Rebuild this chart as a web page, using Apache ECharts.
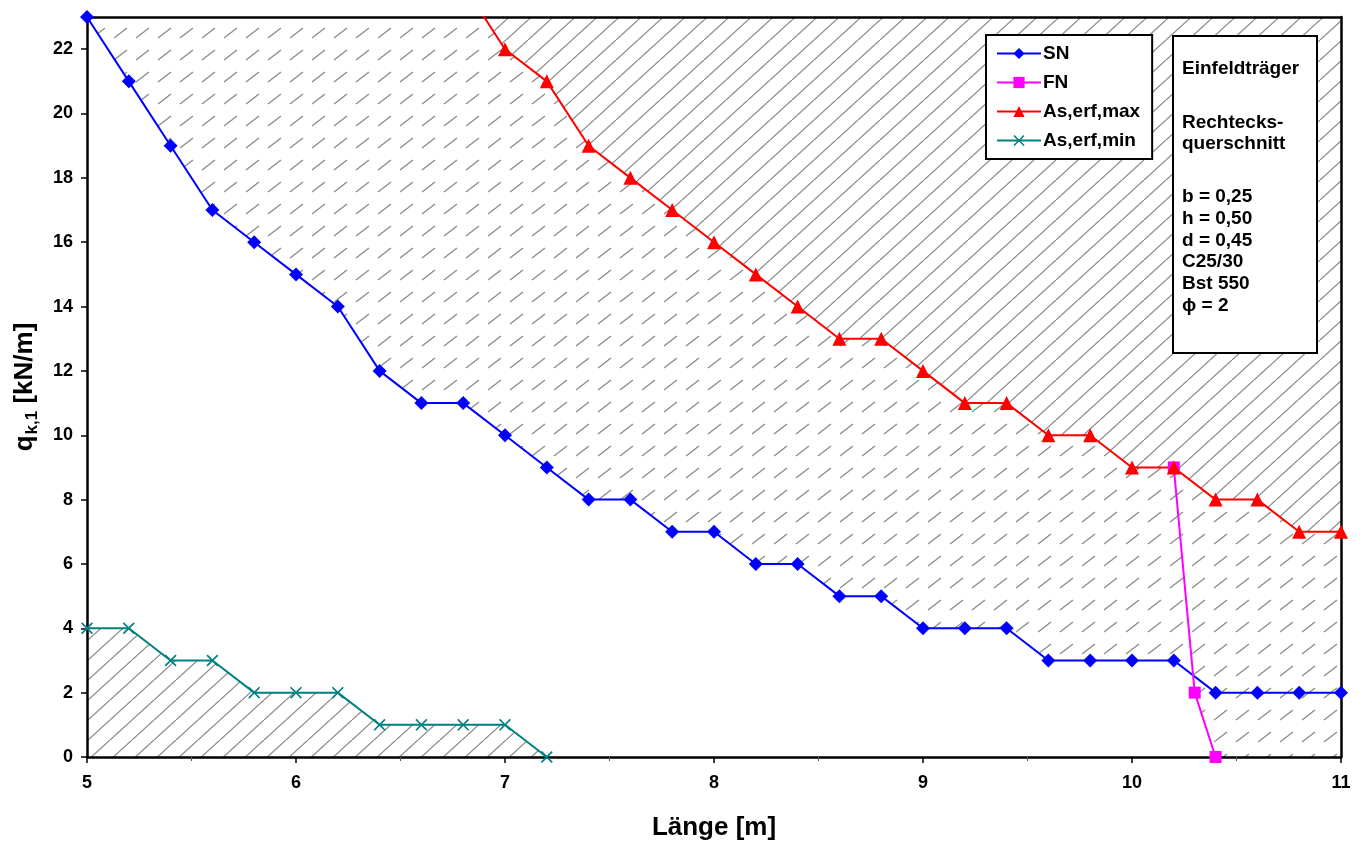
<!DOCTYPE html>
<html>
<head>
<meta charset="utf-8">
<script src="https://cdn.jsdelivr.net/npm/echarts@6/dist/echarts.min.js"></script>
<style>
html,body{margin:0;padding:0;background:#fff;}
#chart{width:1363px;height:841px;}
</style>
</head>
<body>
<div id="chart"></div>
<script>
// ---- data ----
const snX = [5,5.2,5.4,5.6,5.8,6,6.2,6.4,6.6,6.8,7,7.2,7.4,7.6,7.8,8,8.2,8.4,8.6,8.8,9,9.2,9.4,9.6,9.8,10,10.2,10.4,10.6,10.8,11];
const snY = [23,21,19,17,16,15,14,12,11,11,10,9,8,8,7,7,6,6,5,5,4,4,4,3,3,3,3,2,2,2,2];
const fnX = [10.2,10.3,10.4];
const fnY = [9,2,0];
const maxX = [6.8,7,7.2,7.4,7.6,7.8,8,8.2,8.4,8.6,8.8,9,9.2,9.4,9.6,9.8,10,10.2,10.4,10.6,10.8,11];
const maxY = [24,22,21,19,18,17,16,15,14,13,13,12,11,11,10,10,9,9,8,8,7,7];
const minX = [5,5.2,5.4,5.6,5.8,6,6.2,6.4,6.6,6.8,7,7.2];
const minY = [4,4,3,3,2,2,2,1,1,1,1,0];
const xTicks = [5,6,7,8,9,10,11];
const yTicks = [0,2,4,6,8,10,12,14,16,18,20,22];
const infoLines = ['Einfeldträger','Rechtecks-','querschnitt','b = 0,25','h = 0,50','d = 0,45','C25/30','Bst 550','\u03D5 = 2'];
const infoY = [69,123,144,197,219,241,262,284,306];

const zip = (xs, ys) => xs.map((x, i) => [x, ys[i]]);
const SN = zip(snX, snY), FN = zip(fnX, fnY), MAX = zip(maxX, maxY), MIN = zip(minX, minY);

// ---- hatch patterns ----
function solidHatch(whiteBg) {
  const w = 22, h = 20;
  const c = document.createElement('canvas'); c.width = w; c.height = h;
  const g = c.getContext('2d');
  if (whiteBg) { g.fillStyle = '#fff'; g.fillRect(0, 0, w, h); }
  g.strokeStyle = '#858585'; g.lineWidth = 1.2;
  for (let k = -1; k <= 1; k++) {
    g.beginPath(); g.moveTo(k * w, h); g.lineTo(k * w + w, 0); g.stroke();
  }
  return { image: c, repeat: 'repeat' };
}
function dashHatch() {
  const w = 22, h = 22;
  const c = document.createElement('canvas'); c.width = w; c.height = h;
  const g = c.getContext('2d');
  g.fillStyle = '#fff'; g.fillRect(0, 0, w, h);
  g.strokeStyle = '#8a8a8a'; g.lineWidth = 1.3;
  g.beginPath(); g.moveTo(4, 16); g.lineTo(17, 6); g.stroke();
  return { image: c, repeat: 'repeat' };
}
const DASH = dashHatch(), SOLID_T = solidHatch(false), SOLID_W = solidHatch(true);

function fill(name, data, color, origin, z) {
  return { name, type: 'line', data, z, silent: true, symbol: 'none', showSymbol: false,
    lineStyle: { width: 0, opacity: 0 }, areaStyle: { color, origin, opacity: 1 },
    emphasis: { disabled: true }, tooltip: { show: false } };
}
const crossPath = 'path://M0,1 L1,0 L5,4 L9,0 L10,1 L6,5 L10,9 L9,10 L5,6 L1,10 L0,9 L4,5 Z';
function vis(name, data, color, symbol, size) {
  return { name, type: 'line', data, z: 20, symbol, symbolSize: size, showSymbol: true,
    lineStyle: { color, width: 2 }, itemStyle: { color, borderColor: color, borderWidth: 0 },
    emphasis: { disabled: true } };
}

const chart = echarts.init(document.getElementById('chart'), null, { renderer: 'canvas' });
const bold = 'bold';
const ff = 'Liberation Sans, Arial, sans-serif';
chart.setOption({
  animation: false,
  backgroundColor: '#fff',
  grid: { left: 87, right: 22, top: 17, bottom: 84, show: false, containLabel: false, outerBoundsMode: 'none' },
  xAxis: [{
    type: 'value', min: 5, max: 11, interval: 1, z: 15,
    name: 'Länge [m]', nameLocation: 'middle', nameGap: 58,
    nameTextStyle: { fontFamily: ff, fontWeight: bold, fontSize: 26, color: '#000' },
    axisLine: { lineStyle: { color: '#000', width: 2.5 } },
    axisTick: { length: 6, lineStyle: { color: '#000', width: 1.5 } },
    minorTick: { show: true, splitNumber: 2, length: 4, lineStyle: { color: '#555', width: 1 } },
    splitLine: { show: false },
    axisLabel: { fontFamily: ff, fontWeight: bold, fontSize: 18, color: '#000', margin: 17,
      formatter: v => xTicks.includes(v) ? String(v) : '' }
  }, {
    type: 'value', position: 'top', min: 5, max: 11, z: 15,
    axisLine: { show: true, onZero: false, lineStyle: { color: '#000', width: 2.5 } },
    axisTick: { show: false }, axisLabel: { show: false }, splitLine: { show: false }
  }],
  yAxis: [{
    type: 'value', min: 0, max: 23, interval: 2, z: 15,
    name: '{q|q}{s|k,1}{q| [kN/m]}', nameLocation: 'middle', nameGap: 46,
    nameTextStyle: { fontFamily: ff, fontWeight: bold, fontSize: 26, color: '#000',
      rich: { q: { fontFamily: ff, fontWeight: bold, fontSize: 26, color: '#000' },
              s: { fontFamily: ff, fontWeight: bold, fontSize: 17, color: '#000', padding: [16, 0, 0, 1] } } },
    axisLine: { show: true, lineStyle: { color: '#000', width: 2.5 } },
    axisTick: { show: true, length: 6, lineStyle: { color: '#000', width: 1.5 } },
    splitLine: { show: false },
    axisLabel: { fontFamily: ff, fontWeight: bold, fontSize: 18, color: '#000', margin: 14,
      formatter: v => yTicks.includes(v) ? String(v) : '' }
  }, {
    type: 'value', position: 'right', min: 0, max: 23, z: 15,
    axisLine: { show: true, onZero: false, lineStyle: { color: '#000', width: 2.5 } },
    axisTick: { show: false }, axisLabel: { show: false }, splitLine: { show: false }
  }],
  legend: {
    data: ['SN', 'FN', 'As,erf,max', 'As,erf,min'],
    orient: 'vertical', left: 986, top: 35,
    backgroundColor: '#fff', borderColor: '#000', borderWidth: 2,
    padding: [9, 12, 9, 10], itemWidth: 44, itemHeight: 14, itemGap: 10,
    textStyle: { fontFamily: ff, fontWeight: bold, fontSize: 19, color: '#000', padding: [0, 0, 0, -3] },
    z: 30, selectedMode: false
  },
  graphic: [
    { type: 'rect', left: 1172, top: 35, z: 30, shape: { width: 144, height: 317 },
      style: { fill: '#fff', stroke: '#000', lineWidth: 2 } }
  ].concat(infoLines.map((t, i) => ({
    type: 'text', x: 1182, y: infoY[i], z: 31,
    style: { text: t, fontFamily: ff, fontWeight: bold, fontSize: 19, fill: '#000', textVerticalAlign: 'middle' }
  }))),
  series: [
    fill('bgDash', [[5, 23], [11, 23]], DASH, 'start', 1),
    fill('whiteSN', SN, '#fff', 'start', 2),
    fill('dashFN', FN, DASH, 'end', 3),
    fill('dashSNright', SN.filter(p => p[0] >= fnX[fnX.length - 1]), DASH, 'start', 3),
    fill('hatchMin', MIN, SOLID_T, 'start', 4),
    fill('hatchMax', MAX, SOLID_W, 'end', 5),
    vis('SN', SN, '#0000ff', 'diamond', 14),
    vis('FN', FN, '#ff00ff', 'rect', 12),
    vis('As,erf,max', MAX, '#ff0000', 'triangle', 14),
    vis('As,erf,min', MIN, '#008080', crossPath, 12)
  ]
});
</script>
</body>
</html>
